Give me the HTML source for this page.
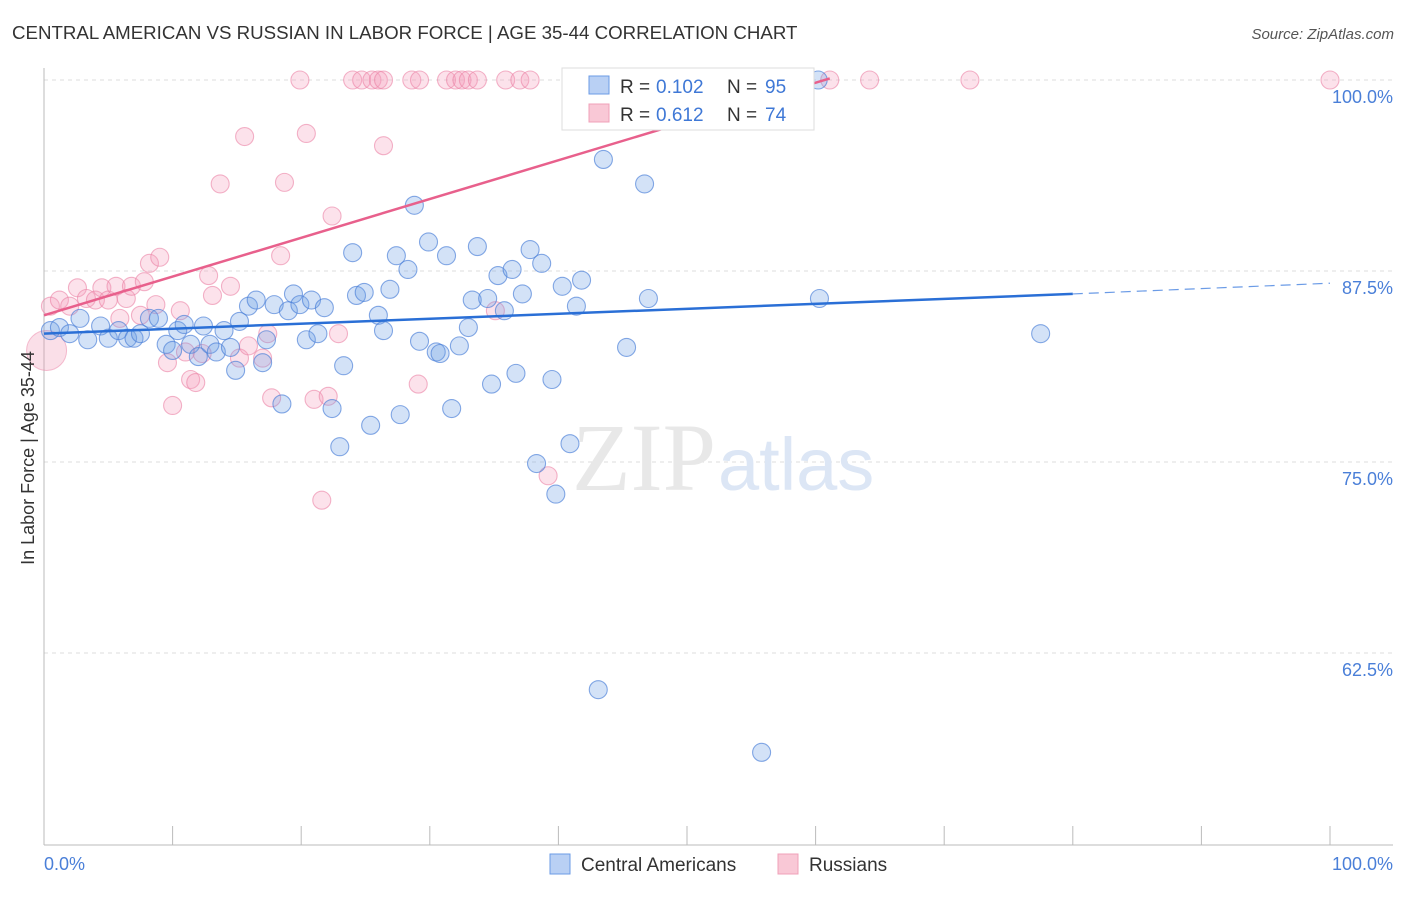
<!DOCTYPE html>
<html><head><meta charset="utf-8"><style>
body{margin:0;background:#fff;font-family:"Liberation Sans",sans-serif}
svg text{font-family:"Liberation Sans",sans-serif}
</style></head><body>
<svg id="chart" width="1406" height="892" viewBox="0 0 1406 892">
<text x="12" y="39" font-size="18.7" fill="#333">CENTRAL AMERICAN VS RUSSIAN IN LABOR FORCE | AGE 35-44 CORRELATION CHART</text>
<text x="1394" y="39" font-size="15" fill="#555" text-anchor="end" font-style="italic">Source: ZipAtlas.com</text>
<g id="grid"></g>
<text x="716" y="490" font-size="96" fill="#e8e8e8" text-anchor="end" style="font-family:'Liberation Serif',serif">ZIP</text>
<text x="718" y="490" font-size="74" fill="#dce6f5">atlas</text>
<g id="pts"></g>
<g id="lines"></g>
<text transform="translate(34,458) rotate(-90)" font-size="18" fill="#333" text-anchor="middle">In Labor Force | Age 35-44</text>
<text x="44" y="870" font-size="18" fill="#4a7fd8">0.0%</text>
<text x="1393" y="870" font-size="18" fill="#4a7fd8" text-anchor="end">100.0%</text>
<g>
<rect x="562" y="68" width="252" height="62" fill="#fff" stroke="#ddd"/>
<rect x="589" y="76" width="20" height="18" fill="#b9d0f4" stroke="#6b9be6"/>
<rect x="589" y="104" width="20" height="18" fill="#f9c8d6" stroke="#f0a0b8"/>
<text x="620" y="93" font-size="19" fill="#333">R =</text><text x="656" y="93" font-size="19" fill="#3f78d6">0.102</text>
<text x="727" y="93" font-size="19" fill="#333">N =</text><text x="765" y="93" font-size="19" fill="#3f78d6">95</text>
<text x="620" y="121" font-size="19" fill="#333">R =</text><text x="656" y="121" font-size="19" fill="#3f78d6">0.612</text>
<text x="727" y="121" font-size="19" fill="#333">N =</text><text x="765" y="121" font-size="19" fill="#3f78d6">74</text>
</g>
<g>
<rect x="550" y="854" width="20" height="20" fill="#b9d0f4" stroke="#6b9be6"/>
<text x="581" y="871" font-size="19" fill="#333">Central Americans</text>
<rect x="778" y="854" width="20" height="20" fill="#f9c8d6" stroke="#f0a0b8"/>
<text x="809" y="871" font-size="19" fill="#333">Russians</text>
</g>
</svg>
<script>
const yTicks=[100,87.5,75,62.5];
const yTickLabels=["100.0%","87.5%","75.0%","62.5%"];
const xTicks=[0,10,20,30,40,50,60,70,80,90,100];
const blueX=[0.5,1.2,2.0,2.8,3.4,4.4,5.0,5.8,6.5,7.0,7.5,8.2,8.9,9.5,10.0,10.4,10.9,11.4,12.0,12.4,12.9,13.4,14.0,14.5,14.9,15.2,15.9,16.5,17.0,17.3,17.9,18.5,19.0,19.4,19.9,20.4,20.8,21.3,21.8,22.4,23.0,23.3,24.0,24.3,24.9,25.4,26.0,26.4,26.9,27.4,27.7,28.3,28.8,29.2,29.9,30.5,30.8,31.3,31.7,32.3,33.0,33.3,33.7,34.5,34.8,35.3,35.8,36.4,36.7,37.2,37.8,38.3,38.7,39.5,39.8,40.3,40.9,41.4,41.8,43.1,43.5,45.3,46.7,47.0,55.8,60.2,60.3,77.5];
const blueY=[83.6,83.8,83.4,84.4,83.0,83.9,83.1,83.6,83.1,83.1,83.4,84.4,84.4,82.7,82.3,83.6,84.0,82.7,81.9,83.9,82.7,82.2,83.6,82.5,81.0,84.2,85.2,85.6,81.5,83.0,85.3,78.8,84.9,86.0,85.3,83.0,85.6,83.4,85.1,78.5,76.0,81.3,88.7,85.9,86.1,77.4,84.6,83.6,86.3,88.5,78.1,87.6,91.8,82.9,89.4,82.2,82.1,88.5,78.5,82.6,83.8,85.6,89.1,85.7,80.1,87.2,84.9,87.6,80.8,86.0,88.9,74.9,88.0,80.4,72.9,86.5,76.2,85.2,86.9,60.1,94.8,82.5,93.2,85.7,56.0,100,85.7,83.4];
const pinkX=[19.9,24.0,24.7,25.5,26.0,26.4,28.6,29.2,31.3,32.0,32.5,33.0,33.7,35.9,37.0,37.8,47.4,52.3,61.1,64.2,72.0,100,0.5,1.2,2.0,2.6,3.3,4.0,4.5,5.0,5.6,5.9,6.4,6.8,7.5,7.8,8.2,8.7,9.0,9.6,10.0,10.6,11.0,11.4,11.8,12.3,12.8,13.1,13.7,14.5,15.2,15.6,15.9,17.0,17.4,17.7,18.4,18.7,20.4,21.0,21.6,22.1,22.4,22.9,26.4,29.1,35.1,39.2];
const pinkY=[100,100,100,100,100,100,100,100,100,100,100,100,100,100,100,100,100,100,100,100,100,100,85.2,85.6,85.2,86.4,85.7,85.6,86.4,85.6,86.5,84.4,85.7,86.5,84.6,86.8,88.0,85.3,88.4,81.5,78.7,84.9,82.2,80.4,80.2,82.1,87.2,85.9,93.2,86.5,81.8,96.3,82.6,81.8,83.4,79.2,88.5,93.3,96.5,79.1,72.5,79.3,91.1,83.4,95.7,80.1,84.9,74.1];
const bigPink=[0.2,82.3];
const blueLine=[[0,83.4],[80,86.0],[100,86.7]];
const pinkLine=[[0,84.6],[61.1,100.1]];
const X=v=>44+v*12.86, Y=v=>80+(100-v)*15.28;
const NS="http://www.w3.org/2000/svg";
function mk(t,a,p){const e=document.createElementNS(NS,t);for(const k in a)e.setAttribute(k,a[k]);p.appendChild(e);return e;}
const grid=document.getElementById('grid');
yTicks.forEach((t,i)=>{
 const l=mk('line',{x1:44,x2:1393,y1:Y(t),y2:Y(t),stroke:'#ddd','stroke-dasharray':'4,4'},grid);
 
 
 const tx=mk('text',{x:1393,y:Y(t)+23,'font-size':18,fill:'#4a7fd8','text-anchor':'end'},grid);
 tx.textContent=yTickLabels[i];
 
 
});
const ax=mk('line',{x1:44,x2:44,y1:68,y2:845,stroke:'#bbb'},grid);


const bx=mk('line',{x1:44,x2:1393,y1:845,y2:845,stroke:'#bbb'},grid);


xTicks.forEach(t=>{
 const l=mk('line',{x1:X(t),x2:X(t),y1:826,y2:845,stroke:'#bbb'},grid);
 
 
});
const pts=document.getElementById('pts');
const bp=mk('circle',{cx:X(bigPink[0]),cy:Y(bigPink[1]),r:20,fill:'rgba(240,150,180,0.3)',stroke:'rgba(235,130,165,0.5)'},pts);


pinkX.forEach((x,i)=>{
 const c=mk('circle',{cx:X(x),cy:Y(pinkY[i]),r:9,fill:'rgba(244,160,190,0.3)',stroke:'rgba(235,130,165,0.6)','stroke-width':1.1},pts);
 
 
});
blueX.forEach((x,i)=>{
 const c=mk('circle',{cx:X(x),cy:Y(blueY[i]),r:9,fill:'rgba(110,160,230,0.3)',stroke:'rgba(70,125,215,0.65)','stroke-width':1.1},pts);
 
 
});
const lines=document.getElementById('lines');
const b1=mk('line',{x1:X(blueLine[0][0]),y1:Y(blueLine[0][1]),x2:X(blueLine[1][0]),y2:Y(blueLine[1][1]),stroke:'#2a6fd6','stroke-width':2.5},lines);


const b2=mk('line',{x1:X(blueLine[1][0]),y1:Y(blueLine[1][1]),x2:X(blueLine[2][0]),y2:Y(blueLine[2][1]),stroke:'#6b9be6','stroke-width':1.2,'stroke-dasharray':'10,6'},lines);


const p1=mk('line',{x1:X(pinkLine[0][0]),y1:Y(pinkLine[0][1]),x2:X(pinkLine[1][0]),y2:Y(pinkLine[1][1]),stroke:'#e8608c','stroke-width':2.5},lines);


</script>
</body></html>
